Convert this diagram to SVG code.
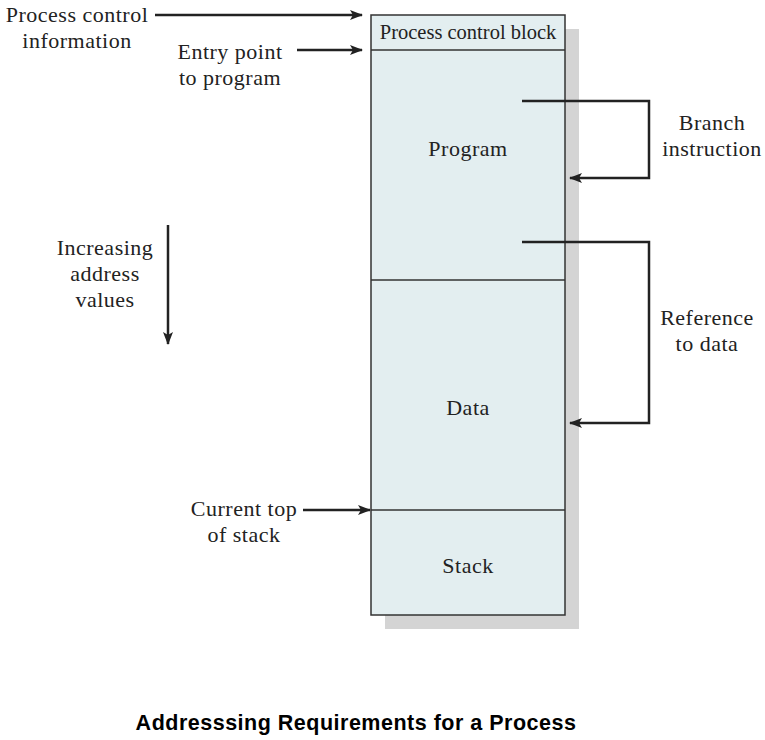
<svg xmlns="http://www.w3.org/2000/svg" width="765" height="740" viewBox="0 0 765 740">
<defs>
<style>
.t{font-family:"Liberation Serif","Times New Roman",serif;font-size:22px;letter-spacing:0.5px;fill:#222;text-anchor:middle}
.box{fill:#e3eef0;stroke:#333;stroke-width:1.5}
.ln{stroke:#333;stroke-width:1.5;fill:none}
.c{stroke:#222;stroke-width:2.5;fill:none}
</style>
<marker id="ah" markerWidth="13" markerHeight="10" refX="12" refY="5" orient="auto" markerUnits="userSpaceOnUse">
<path d="M0,0 L13,5 L0,10 L3,5 Z" fill="#222"/>
</marker>
</defs>
<rect width="765" height="740" fill="#fff"/>
<g id="memory">
<rect x="385" y="29" width="194" height="600" fill="#d4d4d4"/>
<rect class="box" x="371" y="15" width="194" height="600"/>
<line class="ln" x1="371" y1="50" x2="565" y2="50"/>
<line class="ln" x1="371" y1="280" x2="565" y2="280"/>
<line class="ln" x1="371" y1="510" x2="565" y2="510"/>
</g>
<g id="pcb"><text class="t" x="468" y="39" style="font-size:20.5px;letter-spacing:0px">Process control block</text></g>
<g id="program"><text class="t" x="468" y="156">Program</text></g>
<g id="data"><text class="t" x="468" y="415">Data</text></g>
<g id="stack"><text class="t" x="468" y="573">Stack</text></g>
<g id="labels">
<text class="t" x="77" y="22">Process control</text>
<text class="t" x="77" y="48">information</text>
<text class="t" x="230" y="59">Entry point</text>
<text class="t" x="230" y="85">to program</text>
<text class="t" x="712" y="130">Branch</text>
<text class="t" x="712" y="156">instruction</text>
<text class="t" x="105" y="255">Increasing</text>
<text class="t" x="105" y="281">address</text>
<text class="t" x="105" y="307">values</text>
<text class="t" x="707" y="325">Reference</text>
<text class="t" x="707" y="351">to data</text>
<text class="t" x="244" y="516">Current top</text>
<text class="t" x="244" y="542">of stack</text>
</g>
<g id="connectors">
<line class="c" x1="155" y1="15" x2="362" y2="15" marker-end="url(#ah)"/>
<line class="c" x1="297" y1="50" x2="362" y2="50" marker-end="url(#ah)"/>
<line class="c" x1="303" y1="510" x2="370" y2="510" marker-end="url(#ah)"/>
<line class="c" x1="168" y1="225" x2="168" y2="344" marker-end="url(#ah)"/>
<polyline class="c" points="522,101 649,101 649,178 570,178" marker-end="url(#ah)"/>
<polyline class="c" points="522,242 649,242 649,423 570,423" marker-end="url(#ah)"/>
</g>
<text x="356" y="730" font-family="Liberation Sans,Arial,sans-serif" font-size="21.5" letter-spacing="0.5" font-weight="bold" text-anchor="middle" fill="#000">Addresssing Requirements for a Process</text>
</svg>
